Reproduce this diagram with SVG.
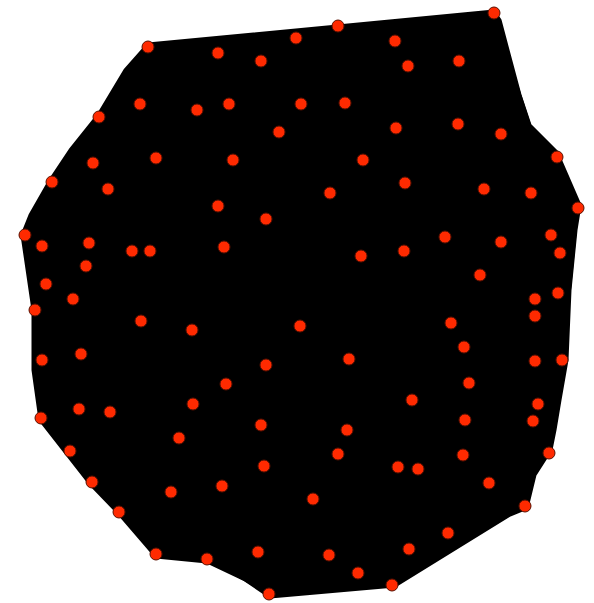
<svg xmlns="http://www.w3.org/2000/svg" width="594" height="603" viewBox="0 0 594 603">
<style>
.n circle{fill:#ff2a00;stroke:#5a1000;stroke-width:1}
.e line{stroke:#000;stroke-width:2}
.mass{fill:#000;stroke:#000;stroke-width:3;stroke-linejoin:round}
</style>
<rect width="594" height="603" fill="#fff"/>
<g id="edges" class="e">
<polygon class="mass" points="148,44 494,11 500,20 520,95 530,125 557,152 580,205 576,230 570,290 567,360 560,400 555,430 551,450 535,475 527,508 510,515 395,586 270,597 245,580 207,562 156,557 119,514 90,484 40,420 33,370 33,310 22,235 30,215 50,180 70,150 98,115 125,70"/>
<line x1="148" y1="47" x2="494" y2="13"/>
<line x1="494" y1="13" x2="531" y2="128"/>
<line x1="557" y1="157" x2="578" y2="208"/>
<line x1="578" y1="208" x2="569" y2="300"/>
<line x1="569" y1="300" x2="562" y2="360"/>
<line x1="562" y1="360" x2="549" y2="453"/>
<line x1="525" y1="506" x2="392" y2="585"/>
<line x1="392" y1="585" x2="269" y2="594"/>
<line x1="269" y1="594" x2="207" y2="559"/>
<line x1="207" y1="559" x2="156" y2="554"/>
<line x1="156" y1="554" x2="119" y2="512"/>
<line x1="119" y1="512" x2="41" y2="418"/>
<line x1="41" y1="418" x2="35" y2="310"/>
<line x1="35" y1="310" x2="25" y2="235"/>
<line x1="25" y1="235" x2="52" y2="182"/>
<line x1="52" y1="182" x2="99" y2="117"/>
<line x1="99" y1="117" x2="148" y2="47"/>
</g>
<g id="nodes" class="n">
<circle id="n1" cx="148" cy="47" r="6"/>
<circle id="n2" cx="218" cy="53" r="6"/>
<circle id="n3" cx="261" cy="61" r="6"/>
<circle id="n4" cx="296" cy="38" r="6"/>
<circle id="n5" cx="338" cy="26" r="6"/>
<circle id="n6" cx="395" cy="41" r="6"/>
<circle id="n7" cx="408" cy="66" r="6"/>
<circle id="n8" cx="459" cy="61" r="6"/>
<circle id="n9" cx="494" cy="13" r="6"/>
<circle id="n10" cx="99" cy="117" r="6"/>
<circle id="n11" cx="140" cy="104" r="6"/>
<circle id="n12" cx="197" cy="110" r="6"/>
<circle id="n13" cx="229" cy="104" r="6"/>
<circle id="n14" cx="301" cy="104" r="6"/>
<circle id="n15" cx="345" cy="103" r="6"/>
<circle id="n16" cx="279" cy="132" r="6"/>
<circle id="n17" cx="396" cy="128" r="6"/>
<circle id="n18" cx="458" cy="124" r="6"/>
<circle id="n19" cx="501" cy="134" r="6"/>
<circle id="n20" cx="93" cy="163" r="6"/>
<circle id="n21" cx="156" cy="158" r="6"/>
<circle id="n22" cx="233" cy="160" r="6"/>
<circle id="n23" cx="363" cy="160" r="6"/>
<circle id="n24" cx="557" cy="157" r="6"/>
<circle id="n25" cx="52" cy="182" r="6"/>
<circle id="n26" cx="108" cy="189" r="6"/>
<circle id="n27" cx="218" cy="206" r="6"/>
<circle id="n28" cx="266" cy="219" r="6"/>
<circle id="n29" cx="330" cy="193" r="6"/>
<circle id="n30" cx="405" cy="183" r="6"/>
<circle id="n31" cx="484" cy="189" r="6"/>
<circle id="n32" cx="531" cy="193" r="6"/>
<circle id="n33" cx="578" cy="208" r="6"/>
<circle id="n34" cx="25" cy="235" r="6"/>
<circle id="n35" cx="42" cy="246" r="6"/>
<circle id="n36" cx="89" cy="243" r="6"/>
<circle id="n37" cx="132" cy="251" r="6"/>
<circle id="n38" cx="150" cy="251" r="6"/>
<circle id="n39" cx="224" cy="247" r="6"/>
<circle id="n40" cx="361" cy="256" r="6"/>
<circle id="n41" cx="404" cy="251" r="6"/>
<circle id="n42" cx="445" cy="237" r="6"/>
<circle id="n43" cx="501" cy="242" r="6"/>
<circle id="n44" cx="551" cy="235" r="6"/>
<circle id="n45" cx="560" cy="253" r="6"/>
<circle id="n46" cx="86" cy="266" r="6"/>
<circle id="n47" cx="46" cy="284" r="6"/>
<circle id="n48" cx="73" cy="299" r="6"/>
<circle id="n49" cx="480" cy="275" r="6"/>
<circle id="n50" cx="535" cy="299" r="6"/>
<circle id="n51" cx="558" cy="293" r="6"/>
<circle id="n52" cx="35" cy="310" r="6"/>
<circle id="n53" cx="141" cy="321" r="6"/>
<circle id="n54" cx="192" cy="330" r="6"/>
<circle id="n55" cx="300" cy="326" r="6"/>
<circle id="n56" cx="451" cy="323" r="6"/>
<circle id="n57" cx="535" cy="316" r="6"/>
<circle id="n58" cx="81" cy="354" r="6"/>
<circle id="n59" cx="42" cy="360" r="6"/>
<circle id="n60" cx="349" cy="359" r="6"/>
<circle id="n61" cx="266" cy="365" r="6"/>
<circle id="n62" cx="464" cy="347" r="6"/>
<circle id="n63" cx="535" cy="361" r="6"/>
<circle id="n64" cx="562" cy="360" r="6"/>
<circle id="n65" cx="226" cy="384" r="6"/>
<circle id="n66" cx="469" cy="383" r="6"/>
<circle id="n67" cx="79" cy="409" r="6"/>
<circle id="n68" cx="110" cy="412" r="6"/>
<circle id="n69" cx="193" cy="404" r="6"/>
<circle id="n70" cx="412" cy="400" r="6"/>
<circle id="n71" cx="538" cy="404" r="6"/>
<circle id="n72" cx="261" cy="425" r="6"/>
<circle id="n73" cx="347" cy="430" r="6"/>
<circle id="n74" cx="41" cy="418" r="6"/>
<circle id="n75" cx="465" cy="420" r="6"/>
<circle id="n76" cx="533" cy="421" r="6"/>
<circle id="n77" cx="179" cy="438" r="6"/>
<circle id="n78" cx="70" cy="451" r="6"/>
<circle id="n79" cx="338" cy="454" r="6"/>
<circle id="n80" cx="463" cy="455" r="6"/>
<circle id="n81" cx="549" cy="453" r="6"/>
<circle id="n82" cx="264" cy="466" r="6"/>
<circle id="n83" cx="398" cy="467" r="6"/>
<circle id="n84" cx="418" cy="469" r="6"/>
<circle id="n85" cx="92" cy="482" r="6"/>
<circle id="n86" cx="222" cy="486" r="6"/>
<circle id="n87" cx="171" cy="492" r="6"/>
<circle id="n88" cx="489" cy="483" r="6"/>
<circle id="n89" cx="313" cy="499" r="6"/>
<circle id="n90" cx="525" cy="506" r="6"/>
<circle id="n91" cx="119" cy="512" r="6"/>
<circle id="n92" cx="448" cy="533" r="6"/>
<circle id="n93" cx="409" cy="549" r="6"/>
<circle id="n94" cx="156" cy="554" r="6"/>
<circle id="n95" cx="207" cy="559" r="6"/>
<circle id="n96" cx="258" cy="552" r="6"/>
<circle id="n97" cx="329" cy="555" r="6"/>
<circle id="n98" cx="358" cy="573" r="6"/>
<circle id="n99" cx="392" cy="585" r="6"/>
<circle id="n100" cx="269" cy="594" r="6"/>
</g>
</svg>
